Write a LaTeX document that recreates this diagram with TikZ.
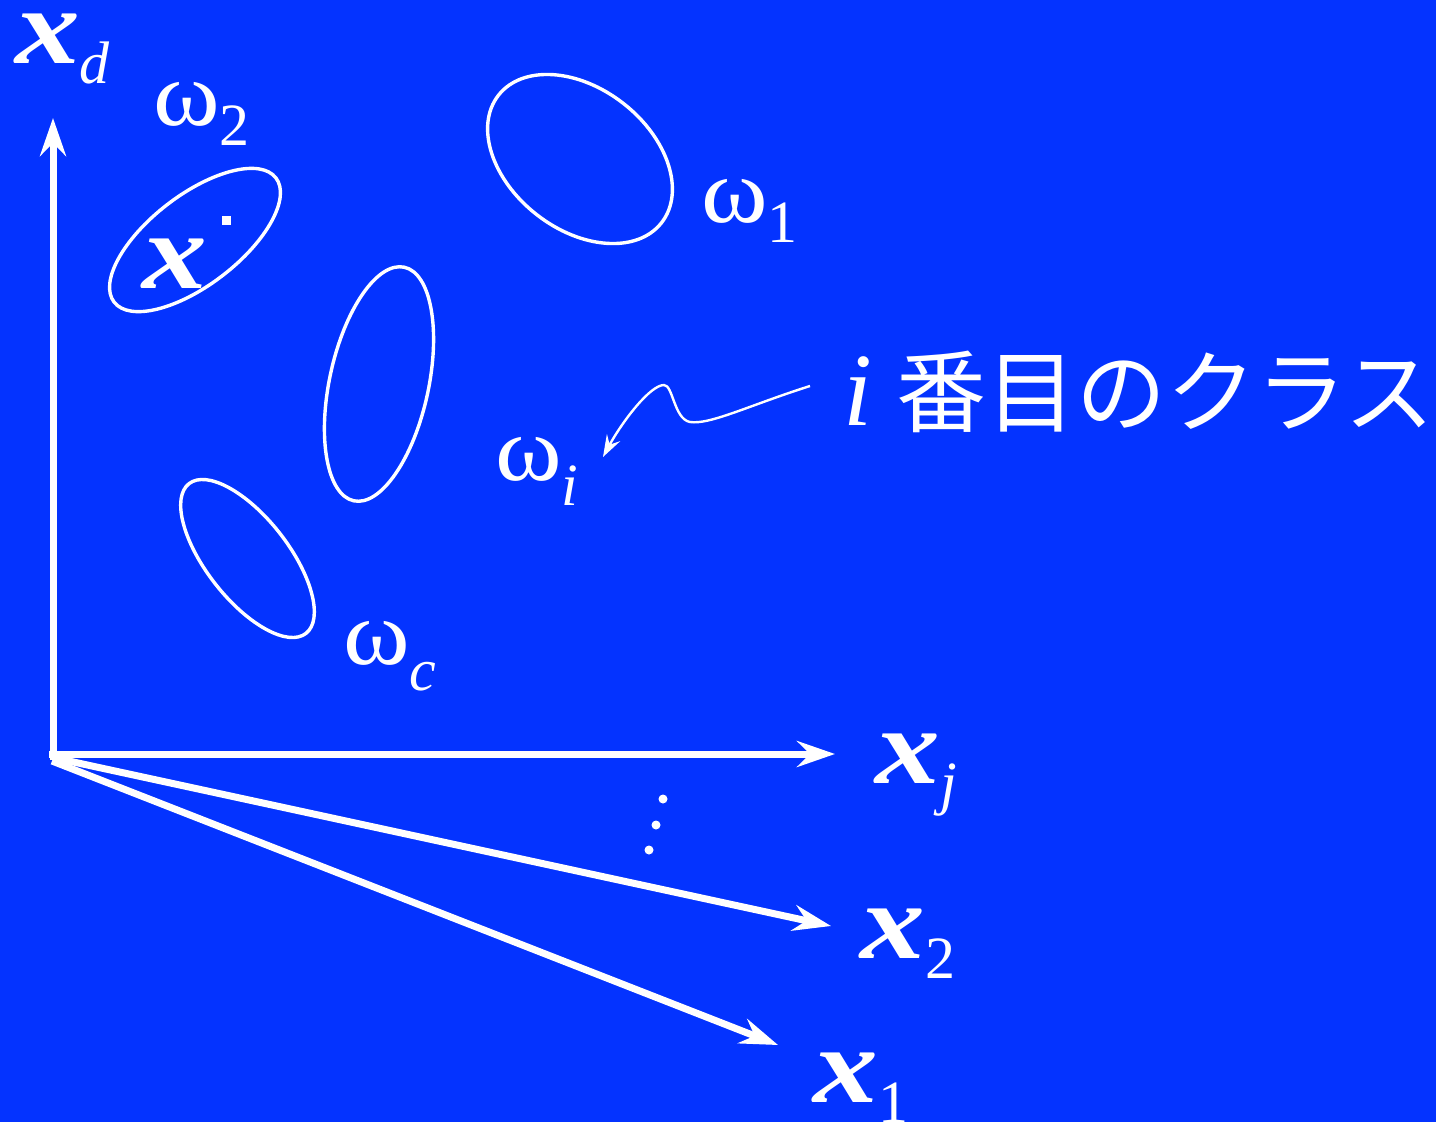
\documentclass[tikz,border=0pt]{standalone}
\usepackage{fontspec}
\setmainfont{Liberation Serif}
\newfontfamily\cjk{Noto Sans CJK JP}
\usetikzlibrary{arrows.meta,shapes.geometric}
\definecolor{bgblue}{RGB}{4,51,255}
\newcommand{\bigx}{{\fontsize{108}{108}\selectfont\bfseries\itshape \scalebox{1.2}[1]{x}}}
\newcommand{\om}{{\fontsize{92}{92}\selectfont \scalebox{1.1}[1]{ω}}}
\newcommand{\lsub}[2][-20pt]{\raisebox{#1}{\fontsize{60}{60}\selectfont #2}}
\begin{document}
\begin{tikzpicture}[x=1pt,y=-1pt,line join=round,
  lbl/.style={inner sep=0pt,anchor=base west,text=white},
  axis/.style={draw=white,line width=7pt,-{Stealth[length=38pt,width=26pt,inset=13pt]}},
  cls/.style={draw=white,line width=3.4pt,ellipse,inner sep=0pt}]
\fill[bgblue] (0,0) rectangle (1436,1122);
\useasboundingbox (0,0) rectangle (1436,1122);
% axes
\coordinate (ov) at (53,760);
\coordinate (oh) at (49,754);
\coordinate (o2) at (55,758);
\coordinate (o1) at (52,761);
\coordinate (td) at (53,118);
\coordinate (tj) at (835,754);
\coordinate (t2) at (831,926);
\coordinate (t1) at (778,1045);
\draw[axis] (ov) -- (td);
\draw[axis] (oh) -- (tj);
\draw[axis] (o2) -- (t2);
\draw[axis] (o1) -- (t1);
% class ellipses
\node[cls,minimum width=204pt,minimum height=90pt,rotate=37.5] (e2) at (195,240) {};
\node[cls,minimum width=207pt,minimum height=141pt,rotate=-38] (e1) at (580,159) {};
\node[cls,minimum width=239pt,minimum height=99pt,rotate=77.8] (ei) at (379,384) {};
\node[cls,minimum width=190pt,minimum height=82pt,rotate=-52] (ec) at (247.5,558.5) {};
% labels
\node[lbl] (xd) at (15,63) {\bigx\lsub{\itshape d}};
\node[lbl] (w2) at (153,125) {\om\lsub{2}};
\node[lbl] (w1) at (701,222) {\om\lsub{1}};
\node[lbl] (wi) at (495,480) {\om\lsub[-25pt]{\itshape i}};
\node[lbl] (wc) at (343,664) {\om\lsub[-26pt]{\itshape c}};
\node[lbl] (xj) at (875,783) {\bigx\lsub{\itshape j}};
\node[lbl] (x2) at (860,958) {\bigx\lsub{2}};
\node[lbl] (x1) at (813,1102) {\bigx\lsub{1}};
\node[lbl] (xin) at (142,288) {\bigx};
\fill[white] (222,216) rectangle (231,225);
\node[lbl] (clsname) at (843,425) {{\fontsize{104}{104}\selectfont\itshape i}\hspace{24pt}{\cjk\fontsize{90}{90}\selectfont 番目のクラス}};
% vertical dots
\fill[white] (663,799) circle (4.5pt) (656,825) circle (4.5pt) (649,850) circle (4.5pt);
% squiggle pointer
\coordinate (ps) at (810,386);
\coordinate (pt) at (603,457);
\draw[white,line width=2.4pt,-{Stealth[length=22pt,width=15pt,inset=8pt]}]
  (ps) .. controls (750,405) and (710,425) .. (690,422)
  .. controls (674,419) and (673,385) .. (664,385)
  .. controls (650,385) and (622,422) .. (pt);
\end{tikzpicture}
\end{document}
